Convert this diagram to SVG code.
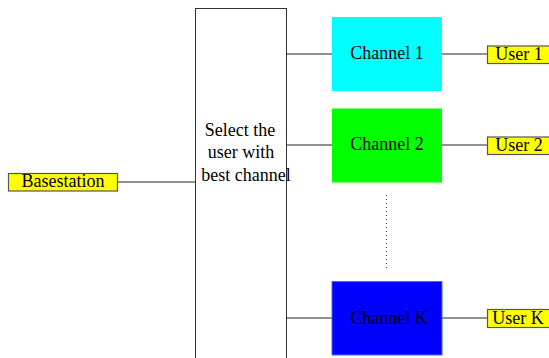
<svg xmlns="http://www.w3.org/2000/svg" width="549" height="358" viewBox="0 0 549 358">
<style>
text{font-family:'Liberation Serif','DejaVu Serif',serif;font-size:18px;fill:#000;text-anchor:middle}
.lbl{fill:#ffff00;stroke:#555;stroke-width:1.2}
.ln{stroke:#222;stroke-width:1;fill:none}
</style>
<rect width="549" height="358" fill="#fff"/>
<g id="connectors">
<line class="ln" x1="118" y1="182" x2="195" y2="182"/>
<line class="ln" x1="287" y1="54" x2="332" y2="54"/>
<line class="ln" x1="287" y1="145" x2="332" y2="145"/>
<line class="ln" x1="287" y1="318" x2="332" y2="318"/>
<line class="ln" x1="442" y1="54" x2="487" y2="54"/>
<line class="ln" x1="442" y1="145" x2="487" y2="145"/>
<line class="ln" x1="442" y1="318" x2="487" y2="318"/>
<line x1="386.5" y1="195" x2="386.5" y2="268" stroke="#444" stroke-width="1" stroke-dasharray="1,3"/>
</g>
<g id="basestation">
<rect class="lbl" x="8.5" y="173.5" width="109" height="17.5"/>
<text x="63" y="187" font-family="Liberation Serif">Basestation</text>
</g>
<g id="selector">
<rect x="195.5" y="8.5" width="91" height="360" fill="#fff" stroke="#333" stroke-width="1"/>
<text x="240" y="136" font-family="Liberation Serif">Select the</text>
<text x="241" y="158" font-family="Liberation Serif">user with</text>
<text x="246" y="181" font-family="Liberation Serif">best channel</text>
</g>
<g id="channel1">
<rect x="332" y="17" width="110" height="74" fill="#00ffff"/>
<text x="387" y="59" font-family="Liberation Serif">Channel 1</text>
</g>
<g id="channel2">
<rect x="332" y="108.5" width="110" height="74" fill="#00ff00"/>
<text x="387" y="150" font-family="Liberation Serif">Channel 2</text>
</g>
<g id="channelK">
<rect x="332" y="281.5" width="110" height="73.5" fill="#0000ff" stroke="#4466ff" stroke-width="1"/>
<text x="389" y="324" font-family="Liberation Serif">Channel K</text>
</g>
<g id="user1">
<rect class="lbl" x="487.5" y="46" width="70" height="17.5"/>
<text x="519" y="59.5" font-family="Liberation Serif">User 1</text>
</g>
<g id="user2">
<rect class="lbl" x="487.5" y="137" width="70" height="17.5"/>
<text x="519" y="150.5" font-family="Liberation Serif">User 2</text>
</g>
<g id="userK">
<rect class="lbl" x="487.5" y="309.5" width="70" height="18"/>
<text x="518" y="323.5" font-family="Liberation Serif">User K</text>
</g>
</svg>
